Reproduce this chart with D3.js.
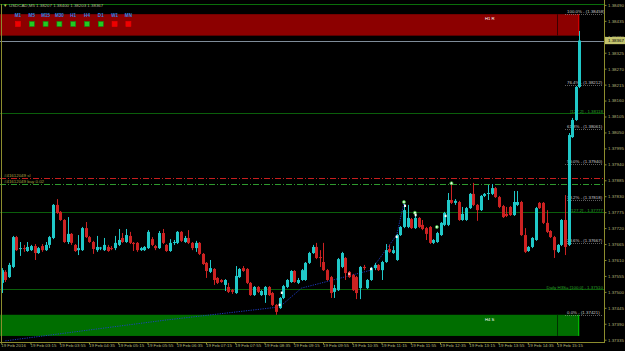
<!DOCTYPE html>
<html><head><meta charset="utf-8">
<script src="https://cdn.jsdelivr.net/npm/d3@7"></script>
<style>
html,body{margin:0;padding:0;background:#000;overflow:hidden}
svg{display:block}
text{font-family:"Liberation Sans",Arial,sans-serif}
</style></head><body>
<svg id="c" width="625" height="351"></svg>
<script>
// ---------------- data ----------------
const symbol = "USDCAD,M5";
const headerQuote = ["1.38207","1.38400","1.38203","1.38367"];
const bars = [ // [open, high, low, close]
[1.37531,1.37582,1.37496,1.37575],[1.37569,1.37575,1.37534,1.37541],[1.37551,1.37600,1.37548,1.37593],
[1.37586,1.37693,1.37582,1.37689],[1.37689,1.37693,1.37641,1.37644],[1.37648,1.37672,1.37624,1.37651],
[1.37651,1.37662,1.37638,1.37650],[1.37641,1.37672,1.37638,1.37655],[1.37644,1.37662,1.37641,1.37658],
[1.37658,1.37665,1.37610,1.37634],[1.37634,1.37655,1.37631,1.37651],[1.37658,1.37665,1.37638,1.37644],
[1.37644,1.37672,1.37641,1.37662],[1.37662,1.37693,1.37651,1.37689],[1.37686,1.37803,1.37682,1.37800],
[1.37800,1.37820,1.37769,1.37772],[1.37776,1.37779,1.37745,1.37748],[1.37748,1.37751,1.37669,1.37672],
[1.37672,1.37758,1.37665,1.37700],[1.37700,1.37703,1.37662,1.37669],[1.37662,1.37665,1.37638,1.37641],
[1.37644,1.37696,1.37627,1.37651],[1.37644,1.37724,1.37641,1.37720],[1.37720,1.37741,1.37686,1.37689],
[1.37689,1.37693,1.37669,1.37672],[1.37672,1.37676,1.37631,1.37648],[1.37644,1.37693,1.37638,1.37655],
[1.37651,1.37655,1.37644,1.37653],[1.37644,1.37686,1.37641,1.37662],[1.37655,1.37662,1.37638,1.37641],
[1.37651,1.37658,1.37644,1.37648],[1.37651,1.37693,1.37644,1.37669],[1.37662,1.37717,1.37658,1.37679],
[1.37686,1.37703,1.37669,1.37672],[1.37672,1.37717,1.37669,1.37696],[1.37693,1.37707,1.37665,1.37669],
[1.37669,1.37672,1.37641,1.37665],[1.37669,1.37672,1.37638,1.37644],[1.37644,1.37655,1.37641,1.37651],
[1.37644,1.37658,1.37641,1.37655],[1.37651,1.37713,1.37648,1.37707],[1.37682,1.37689,1.37658,1.37662],
[1.37658,1.37662,1.37644,1.37651],[1.37651,1.37710,1.37648,1.37703],[1.37703,1.37717,1.37665,1.37669],
[1.37662,1.37665,1.37638,1.37641],[1.37641,1.37682,1.37638,1.37669],[1.37669,1.37679,1.37662,1.37672],
[1.37669,1.37710,1.37665,1.37707],[1.37707,1.37710,1.37672,1.37676],[1.37672,1.37693,1.37669,1.37686],
[1.37686,1.37713,1.37665,1.37669],[1.37669,1.37672,1.37644,1.37651],[1.37651,1.37676,1.37638,1.37669],
[1.37669,1.37672,1.37627,1.37631],[1.37631,1.37634,1.37593,1.37596],[1.37600,1.37603,1.37548,1.37572],
[1.37569,1.37610,1.37565,1.37582],[1.37579,1.37582,1.37524,1.37541],[1.37548,1.37551,1.37527,1.37531],
[1.37541,1.37544,1.37531,1.37534],[1.37524,1.37544,1.37503,1.37541],[1.37517,1.37531,1.37496,1.37500],
[1.37506,1.37510,1.37493,1.37500],[1.37496,1.37589,1.37493,1.37555],[1.37551,1.37582,1.37548,1.37579],
[1.37582,1.37589,1.37569,1.37572],[1.37579,1.37582,1.37527,1.37531],[1.37531,1.37534,1.37486,1.37489],
[1.37489,1.37520,1.37486,1.37517],[1.37517,1.37520,1.37496,1.37500],[1.37489,1.37506,1.37486,1.37503],
[1.37489,1.37520,1.37462,1.37517],[1.37517,1.37520,1.37486,1.37489],[1.37496,1.37500,1.37451,1.37455],
[1.37455,1.37458,1.37421,1.37431],[1.37444,1.37482,1.37441,1.37479],[1.37479,1.37524,1.37475,1.37520],
[1.37517,1.37544,1.37513,1.37541],[1.37534,1.37575,1.37531,1.37572],[1.37572,1.37575,1.37531,1.37534],
[1.37531,1.37548,1.37527,1.37541],
[1.37541,1.37579,1.37538,1.37575],[1.37541,1.37603,1.37538,1.37600],[1.37600,1.37638,1.37596,1.37634],
[1.37634,1.37662,1.37631,1.37655],[1.37655,1.37669,1.37613,1.37617],[1.37620,1.37644,1.37586,1.37617],
[1.37603,1.37669,1.37572,1.37575],[1.37575,1.37579,1.37538,1.37541],[1.37551,1.37555,1.37479,1.37496],
[1.37500,1.37524,1.37479,1.37513],[1.37506,1.37617,1.37503,1.37613],[1.37586,1.37638,1.37582,1.37634],
[1.37617,1.37620,1.37541,1.37565],[1.37569,1.37572,1.37548,1.37551],[1.37558,1.37562,1.37503,1.37506],
[1.37551,1.37555,1.37475,1.37496],[1.37513,1.37589,1.37475,1.37586],[1.37586,1.37593,1.37575,1.37582],
[1.37513,1.37544,1.37510,1.37541],[1.37541,1.37586,1.37538,1.37582],[1.37582,1.37600,1.37575,1.37593],
[1.37593,1.37596,1.37572,1.37575],[1.37575,1.37607,1.37541,1.37603],[1.37603,1.37665,1.37600,1.37644],
[1.37648,1.37662,1.37634,1.37638],[1.37634,1.37658,1.37631,1.37644],[1.37610,1.37700,1.37607,1.37696],
[1.37696,1.37727,1.37693,1.37724],[1.37724,1.37803,1.37720,1.37782],[1.37724,1.37800,1.37720,1.37755],
[1.37751,1.37755,1.37717,1.37720],[1.37720,1.37772,1.37717,1.37755],[1.37755,1.37758,1.37720,1.37724],
[1.37731,1.37748,1.37713,1.37717],[1.37720,1.37724,1.37679,1.37700],[1.37724,1.37727,1.37665,1.37669],
[1.37669,1.37682,1.37665,1.37679],[1.37672,1.37707,1.37669,1.37703],[1.37696,1.37741,1.37693,1.37738],
[1.37731,1.37776,1.37727,1.37772],[1.37731,1.37841,1.37727,1.37817],[1.37817,1.37872,1.37803,1.37807],
[1.37807,1.37820,1.37800,1.37814],[1.37810,1.37814,1.37745,1.37748],[1.37748,1.37793,1.37745,1.37769],
[1.37748,1.37793,1.37745,1.37789],[1.37789,1.37841,1.37786,1.37838],[1.37838,1.37876,1.37796,1.37800],
[1.37800,1.37803,1.37745,1.37782],[1.37782,1.37834,1.37779,1.37831],[1.37831,1.37841,1.37827,1.37838],
[1.37838,1.37869,1.37817,1.37841],[1.37838,1.37872,1.37834,1.37858],[1.37858,1.37862,1.37824,1.37827],
[1.37827,1.37831,1.37789,1.37793],[1.37796,1.37800,1.37755,1.37758],[1.37769,1.37793,1.37758,1.37762],
[1.37793,1.37796,1.37762,1.37765],[1.37765,1.37848,1.37762,1.37810],[1.37800,1.37848,1.37796,1.37810],
[1.37810,1.37814,1.37693,1.37696],[1.37696,1.37720,1.37634,1.37638],[1.37641,1.37658,1.37638,1.37655],
[1.37655,1.37689,1.37651,1.37686],[1.37679,1.37793,1.37676,1.37789],[1.37807,1.37810,1.37786,1.37789],
[1.37807,1.37810,1.37734,1.37738],[1.37738,1.37782,1.37703,1.37707],[1.37710,1.37713,1.37686,1.37689],
[1.37689,1.37693,1.37617,1.37644],[1.37638,1.37665,1.37634,1.37662],[1.37662,1.37751,1.37658,1.37748],
[1.37748,1.37834,1.37627,1.37655],[1.37662,1.38048,1.37658,1.38041],[1.38034,1.38100,1.38031,1.38093],
[1.38093,1.38210,1.38090,1.38207],[1.38207,1.38400,1.38203,1.38367]
];
const timeTickBars = [0,8,16,24,32,40,48,56,64,72,80,88,96,104,112,120,128,136,144,152];
const timeLabels = ["19 Feb 2016","19 Feb 03:15","19 Feb 03:55","19 Feb 04:35","19 Feb 05:15","19 Feb 05:55",
 "19 Feb 06:35","19 Feb 07:15","19 Feb 07:55","19 Feb 08:35","19 Feb 09:15","19 Feb 09:55","19 Feb 10:35",
 "19 Feb 11:15","19 Feb 11:55","19 Feb 12:35","19 Feb 13:15","19 Feb 13:55","19 Feb 14:35","19 Feb 15:15"];
const priceTicks = [1.38490,1.38435,1.38380,1.38325,1.38270,1.38215,1.38160,1.38105,1.38050,1.37995,1.37940,
 1.37885,1.37830,1.37775,1.37720,1.37665,1.37610,1.37555,1.37500,1.37445,1.37390,1.37335];
const currentPrice = 1.38367;
const fibLabels = ["100.0%","76.4%","61.8%","50.0%","38.2%","23.6%","0.0%"];
const fibPrices = [1.38458,1.38212,1.38061,1.37940,1.37818,1.37667,1.37421];
const pivotPrices = [1.38118,1.37777,1.37510];
const pivotLabels = ["[127.2] - 1.38118","[127.2] - 1.37777","Daily H3S= [100.0] - 1.37510"];
const zonePrices = [[1.38458,1.38384],[1.37421,1.37348]];
const zoneLabels = ["H1 R","H4 S"];
const orderPrices = [1.37893,1.37872];
const orderLabels = ["#41612049 sl","#41612049 buy 0.02"];
const tfNames = ["M1","M5","M15","M30","H1","H4","D1","W1","MN"];
const tfTrend = ["dn","up","up","up","up","up","up","dn","dn"];
const trendBars = [1,45,76,82,101,108,110];
const trendPrices = [1.37331,1.37403,1.37448,1.37513,1.37575,1.37696,1.37807];
const markBars = [76.6,76,95,101,108,110,110.3,113,113.2,119,121.4,123];
const markPrices = [1.37497,1.37455,1.37562,1.37579,1.37690,1.37810,1.37797,1.37773,1.37765,1.37724,1.37762,1.37875];
const markKinds = ["w","w","r","w","w","g","w","g","w","g","w","g"];

// ---------------- drawing ----------------
const W = 625, H = 351;
const plotL = 0, plotR = 604, plotT = 4, plotB = 342;
const svg = d3.select("#c");
svg.append("rect").attr("width",W).attr("height",H).attr("fill","#000");

const x = d3.scaleBand().domain(d3.range(bars.length)).range([-0.13, 581.3]).padding(0);
const cx = i => x(i) + x.bandwidth()/2;
const y = d3.scaleLinear().domain([1.37335,1.38490]).range([339.7,4.9]);

const txtCol = "#b4b47a", axisCol = "#8c8c2e";
const fs = 4.4;

// zones
const zoneFill = ["#8c0000","#006e00"], zoneDark = ["#3a0000","#003000"], zoneEdge = ["#e00000","#00c800"];
zonePrices.forEach((z,k)=>{
  const y0 = y(z[0]), y1 = y(z[1]);
  svg.append("rect").attr("x",0).attr("y",y0).attr("width",cx(bars.length-1)).attr("height",y1-y0).attr("fill",zoneFill[k]);
  svg.append("line").attr("x1",557.5).attr("x2",557.5).attr("y1",y0).attr("y2",y1).attr("stroke",zoneDark[k]);
  svg.append("line").attr("x1",578.5).attr("x2",578.5).attr("y1",y0).attr("y2",y1).attr("stroke",zoneEdge[k]).attr("stroke-width",0.8);
  svg.append("text").attr("x",485).attr("y",(y0+y1)/2-4.5).attr("font-size",4.2).attr("fill","#fff").text(zoneLabels[k]);
});

// timeframe panel
tfNames.forEach((n,k)=>{
  const px = 18 + k*13.8;
  svg.append("text").attr("x",px).attr("y",17).attr("font-size",4.6).attr("font-weight","bold")
     .attr("text-anchor","middle").attr("fill","#2f86e6").text(n);
  svg.append("rect").attr("x",px-2.5).attr("y",21.5).attr("width",5).attr("height",5)
     .attr("fill",tfTrend[k]==="up"?"#22cc22":"#ee0000")
     .attr("stroke",tfTrend[k]==="up"?"#118811":"#ee0000").attr("stroke-width",0.6);
});

// horizontal lines
svg.append("line").attr("x1",0).attr("x2",plotR).attr("y1",4.5).attr("y2",4.5).attr("stroke","#0a6e0a");
pivotPrices.forEach((p,k)=>{
  const yy = Math.round(y(p))+0.5;
  svg.append("line").attr("x1",0).attr("x2",plotR).attr("y1",yy).attr("y2",yy).attr("stroke","#0b5e0b");
  svg.append("text").attr("x",603).attr("y",yy-1).attr("font-size",fs).attr("text-anchor","end").attr("fill","#2aa02a").text(pivotLabels[k]);
});
const ordCol = ["#c81e1e","#2e9a2e"];
orderPrices.forEach((p,k)=>{
  const yy = Math.round(y(p))+0.5;
  svg.append("line").attr("x1",0).attr("x2",plotR).attr("y1",yy).attr("y2",yy).attr("stroke",ordCol[k])
     .attr("stroke-dasharray","6,2,1,2");
  svg.append("text").attr("x",4).attr("y",yy-1.3).attr("font-size",fs).attr("fill","#a8a040").text(orderLabels[k]);
});
{
  const yy = Math.round(y(currentPrice))+0.5;
  svg.append("line").attr("x1",0).attr("x2",plotR).attr("y1",yy).attr("y2",yy).attr("stroke","#7f8c99");
}

// fib labels
fibPrices.forEach((p,k)=>{
  const yy = Math.round(y(p))+0.5;
  svg.append("line").attr("x1",565).attr("x2",603).attr("y1",yy).attr("y2",yy).attr("stroke","#9a9a9a")
     .attr("stroke-width",0.6).attr("stroke-dasharray","1,1");
  svg.append("text").attr("x",567).attr("y",yy-1.2).attr("font-size",fs).attr("fill","#c8c8c8")
     .text(fibLabels[k]+" - ("+p.toFixed(5)+")");
});

// trend line (blue dotted)
const tl = d3.line().x((d,i)=>cx(0)+ (trendBars[i])*x.step()).y((d,i)=>y(trendPrices[i]));
svg.append("path").attr("d",tl(trendBars)).attr("fill","none").attr("stroke","#1f3fd0")
   .attr("stroke-width",0.9).attr("stroke-dasharray","1.2,1.2");

// candles
const up = "#20c8c8", dn = "#cc2222";
const g = svg.append("g");
bars.forEach((b,i)=>{
  const [o,h,l,c] = b;
  const col = c >= o ? up : dn;
  const xc = Math.round(cx(i));
  g.append("line").attr("x1",xc+0.5).attr("x2",xc+0.5).attr("y1",y(h)).attr("y2",y(l)).attr("stroke",col).attr("stroke-width",1);
  const top = y(Math.max(o,c)), bot = y(Math.min(o,c));
  g.append("rect").attr("x",xc-1).attr("y",top).attr("width",3).attr("height",Math.max(1,bot-top)).attr("fill",col);
});

// markers
markBars.forEach((b,k)=>{
  const mx = cx(0)+b*x.step(), my = y(markPrices[k]);
  if (markKinds[k]==="g") {
    svg.append("circle").attr("cx",mx).attr("cy",my).attr("r",1.5).attr("fill","#e8ffe8").attr("stroke","#33bb33").attr("stroke-width",0.8);
  } else {
    svg.append("rect").attr("x",mx-1).attr("y",my-1.2).attr("width",2).attr("height",2.4)
       .attr("fill",markKinds[k]==="r"?"#ffb0b0":"#ffffff");
  }
});

// frame
svg.append("line").attr("x1",1.5).attr("x2",1.5).attr("y1",plotT).attr("y2",plotB).attr("stroke",axisCol);
svg.append("line").attr("x1",0).attr("x2",plotR).attr("y1",plotB+0.5).attr("y2",plotB+0.5).attr("stroke",axisCol);

// price axis
const ay = svg.append("g").attr("transform",`translate(${plotR+0.5},0)`)
  .call(d3.axisRight(y).tickValues(priceTicks).tickSize(2).tickPadding(1.5).tickFormat(d3.format(".5f")));
ay.select(".domain").attr("stroke",axisCol).attr("d",`M0,0V${plotB+1}`);
ay.selectAll(".tick line").attr("stroke",axisCol);
ay.selectAll(".tick text").attr("fill",txtCol).attr("font-size",fs).attr("font-family","Liberation Sans, Arial, sans-serif");

// current price tag
{
  const yy = y(currentPrice);
  svg.append("rect").attr("x",plotR+1).attr("y",yy-3.6).attr("width",20).attr("height",7.2).attr("fill","#c4c46e");
  svg.append("text").attr("x",plotR+4).attr("y",yy+1.6).attr("font-size",fs).attr("fill","#000").text(currentPrice.toFixed(5));
}

// time axis
const ax = svg.append("g").attr("transform",`translate(0,${plotB+0.5})`)
  .call(d3.axisBottom(x).tickValues(timeTickBars).tickSize(2).tickFormat((d,i)=>timeLabels[i]));
ax.select(".domain").remove();
ax.selectAll(".tick line").attr("stroke",axisCol);
ax.selectAll(".tick text").attr("fill",txtCol).attr("font-size",fs).attr("text-anchor","start")
  .attr("dx",-0.5).attr("dy",-0.6).attr("font-family","Liberation Sans, Arial, sans-serif");

// header
svg.append("text").attr("x",3).attr("y",7).attr("font-size",4.4).attr("fill","#c8c850").text("\u25BC");
svg.append("text").attr("x",9).attr("y",7).attr("font-size",4.4).attr("fill","#b8b890")
   .text(symbol+"  "+headerQuote.join(" "));
</script>
</body></html>
